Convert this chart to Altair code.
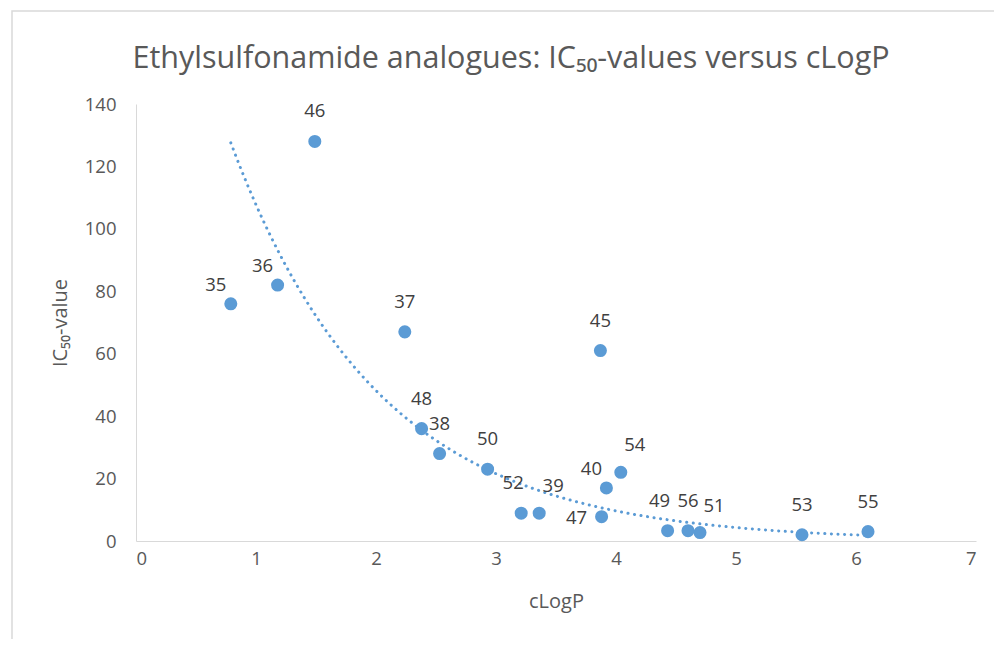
import altair as alt
import numpy as np
import pandas as pd

# Data
compound = ["35", "36", "46", "37", "45", "48", "38", "50", "52", "39",
            "40", "54", "47", "49", "56", "51", "53", "55"]
clogp = [0.79, 1.18, 1.49, 2.24, 3.87, 2.38, 2.53, 2.93, 3.21, 3.36,
         3.92, 4.04, 3.88, 4.43, 4.60, 4.70, 5.55, 6.10]
ic50 = [76, 82, 128, 67, 61, 36, 28, 23, 8.9, 8.9,
        17, 22, 7.8, 3.3, 3.3, 2.7, 2.0, 3.0]
placement = ["above-left", "above-left", "above", "above", "above", "above", "above",
             "above", "upper-left", "above-right", "above-left", "above-right", "left",
             "upper-left", "above", "above-right", "above", "above"]

df = pd.DataFrame({"compound": compound, "clogp": clogp, "ic50": ic50, "place": placement})

# Exponential trendline (least squares on ln y, as a spreadsheet trendline)
b, lna = np.polyfit(np.array(clogp), np.log(np.array(ic50)), 1)
xs = np.linspace(min(clogp), max(clogp), 120)
trend = pd.DataFrame({"clogp": xs, "ic50": np.exp(lna + b * xs)})

FONT = "Open Sans"
GREY = "#595959"
BLUE = "#5b9bd5"

xscale = alt.Scale(domain=[0, 7], nice=False)
yscale = alt.Scale(domain=[0, 140], nice=False)
xaxis = alt.Axis(values=list(range(0, 8)), format="d", title="cLogP", grid=False, ticks=False,
                 labelPadding=8, titlePadding=24, domainColor="#d9d9d9")
yaxis = alt.Axis(values=list(range(0, 141, 20)), format="d", title="IC₅₀-value", grid=False,
                 ticks=False, labelPadding=20, titlePadding=14, domainColor="#d9d9d9")

base = alt.Chart(df)

# chart-area frame (decorative border of the picture)
frame = alt.Chart(pd.DataFrame({"k": [0]})).mark_rect(
    fill=None, stroke="#d9d9d9", strokeWidth=1.5
).encode(x=alt.value(-124), x2=alt.value(1000), y=alt.value(-93), y2=alt.value(700))

points = base.mark_circle(size=170, opacity=1, color=BLUE).encode(
    x=alt.X("clogp:Q", scale=xscale, axis=xaxis),
    y=alt.Y("ic50:Q", scale=yscale, axis=yaxis),
)

line = alt.Chart(trend).mark_line(color=BLUE, strokeWidth=3, strokeDash=[0.1, 6.5],
                                   strokeCap="round").encode(
    x=alt.X("clogp:Q", scale=xscale),
    y=alt.Y("ic50:Q", scale=yscale),
)

offsets = {"above": (0, -30), "upper-left": (-8, -30), "above-left": (-15, -19),
           "above-right": (14, -27), "left": (-25, 1)}
label_layers = []
for key, (ddx, ddy) in offsets.items():
    label_layers.append(
        base.transform_filter(alt.datum.place == key).mark_text(
            font=FONT, fontSize=18.5, color="#404040", dx=ddx, dy=ddy,
            align="center", baseline="middle"
        ).encode(
            x=alt.X("clogp:Q", scale=xscale),
            y=alt.Y("ic50:Q", scale=yscale),
            text="compound:N",
        )
    )

chart = alt.layer(frame, points, line, *label_layers).properties(
    width=840, height=437,
    title=alt.Title("Ethylsulfonamide analogues: IC₅₀-values versus cLogP",
                    font=FONT, fontSize=30.5, fontWeight="normal", color=GREY,
                    anchor="middle", frame="group", offset=0, dx=-45, dy=64),
    autosize=alt.AutoSizeParams(type="none"),
    padding={"left": 128, "top": 96, "right": 18, "bottom": 98},
).configure_view(stroke=None).configure_axis(
    labelFont=FONT, labelFontSize=18.5, labelColor=GREY,
    titleFont=FONT, titleFontSize=20, titleColor=GREY, titleFontWeight="normal",
)

chart.save("out.html", embed_options={"renderer": "svg", "actions": False})
